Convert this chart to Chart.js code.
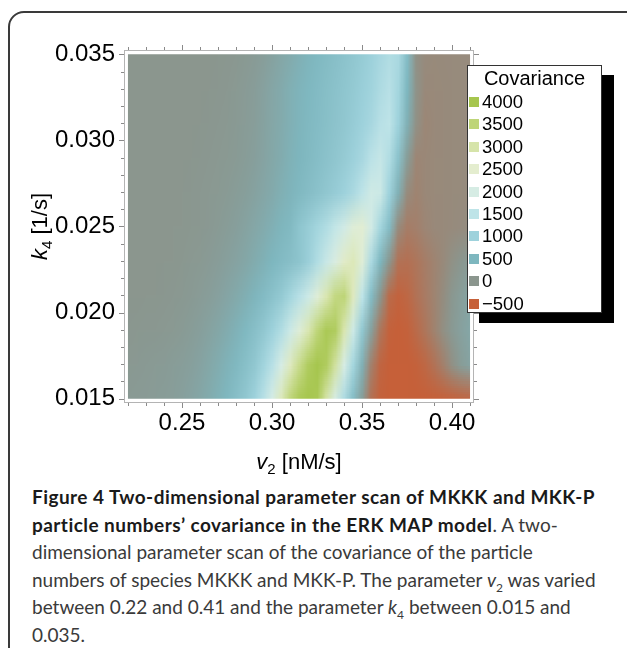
<!DOCTYPE html>
<html>
<head>
<meta charset="utf-8">
<script src="https://cdn.jsdelivr.net/npm/chart.js@4.4.1/dist/chart.umd.min.js"></script>
<style>
    html, body { margin: 0; padding: 0; background: #fff; }
    body { width: 627px; height: 648px; position: relative; overflow: hidden; }
    #box { position: absolute; left: 8px; top: 11px; width: 660px; height: 700px; border: 2px solid #3a3a3a; border-radius: 16px; box-sizing: border-box; }
    #wrap { position: absolute; left: 0; top: 0; width: 627px; height: 480px; }
    #caption { position: absolute; left: 32px; top: 483px; font-family: Lato, "Open Sans", sans-serif; font-size: 19px; line-height: 27.5px; color: #3a3a3a; white-space: nowrap; }
    #caption b { color: #1a1a1a; letter-spacing: 0.45px; }
    #caption sub { font-size: 12px; line-height: 0; }
</style>
</head>
<body>
<div id="box"></div>
<div id="wrap"><canvas id="covChart" width="627" height="480"></canvas></div>
<div id="caption">
<b>Figure 4 Two-dimensional parameter scan of MKKK and MKK-P</b><br>
<b>particle numbers’ covariance in the ERK MAP model</b>. A two-<br>
dimensional parameter scan of the covariance of the particle<br>
numbers of species MKKK and MKK-P. The parameter <i>v</i><sub>2</sub> was varied<br>
between 0.22 and 0.41 and the parameter <i>k</i><sub>4</sub> between 0.015 and<br>
0.035.
</div>
<script>
// axes de la grille (v2 en nM/s, k4 en 1/s)
const v2Values = [0.220, 0.225, 0.230, 0.235, 0.240, 0.245, 0.250, 0.255, 0.260, 0.265,
                  0.270, 0.275, 0.280, 0.285, 0.290, 0.295, 0.300, 0.305, 0.310, 0.315,
                  0.320, 0.325, 0.330, 0.335, 0.340, 0.345, 0.350, 0.355, 0.360, 0.365,
                  0.370, 0.375, 0.380, 0.385, 0.390, 0.395, 0.400, 0.405, 0.410];
const k4Values = [0.015, 0.017, 0.019, 0.021, 0.023, 0.025, 0.027, 0.029, 0.031, 0.033, 0.035];

// covariance, une ligne par valeur de k4
const cov_k015 = [60, 70, 80, 90, 100, 120, 150, 200, 260, 330, 420, 520, 650, 800, 1000, 1400, 2000, 2800, 3500, 3900, 4000, 3900, 3000, 2000, 1200, 600, 100, -350, -480, -500, -500, -500, -500, -500, -500, -500, -490, -470, -450];
const cov_k017 = [40, 50, 60, 70, 80, 100, 120, 150, 200, 270, 350, 440, 540, 660, 800, 1050, 1400, 2000, 2700, 3300, 3800, 4000, 3800, 3100, 2000, 1100, 400, -200, -450, -500, -500, -500, -480, -430, -330, -200, -50, 100, 200];
const cov_k019 = [20, 25, 30, 35, 45, 55, 70, 100, 140, 190, 260, 340, 430, 530, 650, 800, 1000, 1300, 1800, 2300, 2900, 3500, 3900, 3800, 2900, 1800, 800, 150, -300, -480, -500, -480, -400, -300, -180, -60, 60, 170, 250];
const cov_k021 = [0, 5, 10, 15, 20, 30, 45, 65, 90, 120, 170, 230, 300, 380, 470, 580, 700, 850, 1100, 1400, 1800, 2300, 2900, 3400, 3500, 2700, 1500, 600, 0, -400, -470, -430, -330, -250, -170, -80, 30, 130, 220];
const cov_k023 = [0, 0, 0, 5, 10, 15, 25, 40, 55, 80, 110, 150, 200, 260, 330, 410, 500, 580, 650, 750, 950, 1300, 1700, 2100, 2600, 2800, 2300, 1200, 500, 0, -330, -350, -300, -230, -170, -110, -40, 20, 80];
const cov_k025 = [0, 0, 0, 0, 5, 10, 15, 25, 35, 50, 70, 100, 140, 190, 250, 320, 400, 480, 560, 750, 900, 1100, 1300, 1600, 1900, 2300, 2400, 1900, 1100, 600, -100, -230, -200, -150, -120, -110, -100, -90, -80];
const cov_k027 = [0, 0, 0, 0, 0, 5, 10, 20, 30, 40, 55, 75, 100, 135, 180, 240, 310, 390, 460, 540, 620, 700, 790, 890, 1000, 1200, 1500, 1850, 1800, 1000, 400, -100, -170, -130, -115, -110, -105, -100, -95];
const cov_k029 = [0, 0, 0, 0, 0, 0, 5, 10, 20, 30, 40, 55, 75, 100, 140, 200, 270, 340, 420, 490, 560, 630, 700, 780, 870, 980, 1150, 1450, 1650, 1300, 700, 100, -150, -130, -115, -110, -105, -100, -100];
const cov_k031 = [0, 0, 0, 0, 0, 0, 0, 5, 10, 20, 30, 45, 65, 90, 125, 180, 250, 320, 400, 470, 540, 600, 660, 730, 800, 890, 1000, 1150, 1400, 1500, 1000, 400, -50, -140, -120, -110, -105, -100, -100];
const cov_k033 = [0, 0, 0, 0, 0, 0, 0, 0, 5, 10, 20, 35, 55, 80, 110, 170, 240, 310, 390, 460, 520, 580, 640, 700, 770, 850, 940, 1050, 1250, 1400, 1100, 500, -30, -120, -115, -110, -105, -100, -100];
const cov_k035 = [0, 0, 0, 0, 0, 0, 0, 0, 0, 5, 10, 20, 35, 55, 80, 120, 180, 250, 320, 400, 470, 530, 590, 650, 720, 800, 880, 980, 1150, 1300, 1200, 600, -50, -100, -110, -105, -100, -100, -100];
const covRows = [cov_k015, cov_k017, cov_k019, cov_k021, cov_k023, cov_k025, cov_k027, cov_k029, cov_k031, cov_k033, cov_k035];

// graduations
const xTicks = [0.25, 0.30, 0.35, 0.40];
const yTicks = [0.015, 0.020, 0.025, 0.030, 0.035];

// légende
const legendLevels = [4000, 3500, 3000, 2500, 2000, 1500, 1000, 500, 0, -500];

// échelle de couleurs (valeur -> rgb)
const stopValues = [-500, 0, 500, 1000, 1500, 2000, 2500, 3000, 3500, 4000];
const stopColors = [[198, 96, 57], [139, 150, 142], [126, 183, 191], [158, 210, 220], [190, 228, 232],
                    [214, 236, 228], [228, 237, 207], [214, 228, 170], [190, 213, 120], [166, 198, 78]];

function colorFor(v) {
    if (v <= stopValues[0]) return stopColors[0];
    for (let i = 1; i < stopValues.length; i++) {
        if (v <= stopValues[i]) {
            const t = (v - stopValues[i - 1]) / (stopValues[i] - stopValues[i - 1]);
            const a = stopColors[i - 1], b = stopColors[i];
            return [0, 1, 2].map(c => Math.round(a[c] + (b[c] - a[c]) * t));
        }
    }
    return stopColors[stopColors.length - 1];
}

const points = [];
k4Values.forEach((k, j) => {
    v2Values.forEach((v, i) => {
        points.push({ x: v, y: k, c: covRows[j][i] });
    });
});

// Dessin de la carte de densité (lissée) à partir des échelles du graphique
const heatmapPlugin = {
    id: 'heatmap',
    beforeDatasetsDraw(chart) {
        const { ctx, scales: { x, y } } = chart;
        const nx = v2Values.length, ny = k4Values.length;
        const off = document.createElement('canvas');
        off.width = nx;
        off.height = ny;
        const octx = off.getContext('2d');
        const img = octx.createImageData(nx, ny);
        points.forEach(p => {
            const i = v2Values.indexOf(p.x);
            const j = k4Values.indexOf(p.y);
            const r = ny - 1 - j;
            const col = colorFor(p.c);
            const idx = (r * nx + i) * 4;
            img.data[idx] = col[0];
            img.data[idx + 1] = col[1];
            img.data[idx + 2] = col[2];
            img.data[idx + 3] = 255;
        });
        octx.putImageData(img, 0, 0);

        const x0 = x.getPixelForValue(v2Values[0]);
        const x1 = x.getPixelForValue(v2Values[nx - 1]);
        const yTop = y.getPixelForValue(k4Values[ny - 1]);
        const yBot = y.getPixelForValue(k4Values[0]);
        const dx = (x1 - x0) / (nx - 1);
        const dy = (yBot - yTop) / (ny - 1);
        ctx.save();
        ctx.beginPath();
        ctx.rect(x0, yTop, x1 - x0, yBot - yTop);
        ctx.clip();
        ctx.imageSmoothingEnabled = true;
        ctx.drawImage(off, x0 - dx / 2, yTop - dy / 2, nx * dx, ny * dy);
        ctx.restore();
    }
};

// Cadre, graduations mineures, titres d'axes et légende
const framePlugin = {
    id: 'frame',
    afterDraw(chart) {
        const { ctx, chartArea: { left, right, top, bottom }, scales: { x, y } } = chart;
        ctx.save();
        ctx.strokeStyle = '#b4b4b4';
        ctx.lineWidth = 1;
        ctx.strokeRect(left + 0.5, top + 0.5, right - left - 1, bottom - top - 1);

        ctx.strokeStyle = '#8a8a8a';
        ctx.beginPath();
        for (let n = 22; n <= 41; n++) {
            const v = n / 100;
            const len = (n % 5 === 0) ? 5 : 3;
            const px = Math.round(x.getPixelForValue(v)) + 0.5;
            ctx.moveTo(px, bottom); ctx.lineTo(px, bottom + len);
            ctx.moveTo(px, top); ctx.lineTo(px, top - len);
        }
        for (let n = 15; n <= 35; n++) {
            const v = n / 1000;
            const len = (n % 5 === 0) ? 5 : 3;
            const py = Math.round(y.getPixelForValue(v)) + 0.5;
            ctx.moveTo(left, py); ctx.lineTo(left - len, py);
            ctx.moveTo(right, py); ctx.lineTo(right + len, py);
        }
        ctx.stroke();

        // titres d'axes avec indices
        function subTitle(sym, sub, rest) {
            const big = '22px "Liberation Sans", Arial, sans-serif';
            const it = 'italic 22px "Liberation Sans", Arial, sans-serif';
            const small = '15px "Liberation Sans", Arial, sans-serif';
            ctx.font = it; const w1 = ctx.measureText(sym).width;
            ctx.font = small; const w2 = ctx.measureText(sub).width;
            ctx.font = big; const w3 = ctx.measureText(rest).width;
            const total = w1 + w2 + w3;
            let cx = -total / 2;
            ctx.fillStyle = '#000';
            ctx.textBaseline = 'alphabetic';
            ctx.textAlign = 'left';
            ctx.font = it; ctx.fillText(sym, cx, 0); cx += w1;
            ctx.font = small; ctx.fillText(sub, cx, 5); cx += w2;
            ctx.font = big; ctx.fillText(rest, cx, 0);
        }
        ctx.save();
        ctx.translate((left + right) / 2, 469);
        subTitle('v', '2', ' [nM/s]');
        ctx.restore();
        ctx.save();
        ctx.translate(47, (top + bottom) / 2);
        ctx.rotate(-Math.PI / 2);
        subTitle('k', '4', ' [1/s]');
        ctx.restore();

        // légende
        const bx = 467, by = 65, bw = 135, bh = 248;
        ctx.fillStyle = '#000';
        ctx.fillRect(bx + 12, by + 10, bw, bh);
        ctx.fillStyle = '#fff';
        ctx.fillRect(bx, by, bw, bh);
        ctx.strokeStyle = '#333';
        ctx.strokeRect(bx + 0.5, by + 0.5, bw - 1, bh - 1);
        ctx.fillStyle = '#000';
        ctx.textBaseline = 'middle';
        ctx.textAlign = 'center';
        ctx.font = '20px "Liberation Sans", Arial, sans-serif';
        ctx.fillText('Covariance', bx + bw / 2, by + 14);
        ctx.textAlign = 'left';
        ctx.font = '18.5px "Liberation Sans", Arial, sans-serif';
        legendLevels.forEach((lv, k) => {
            const yc = by + 37 + k * 22.4;
            const col = colorFor(lv);
            ctx.fillStyle = 'rgb(' + col.join(',') + ')';
            ctx.fillRect(bx + 2, Math.round(yc - 5), 10, 10);
            ctx.fillStyle = '#000';
            ctx.fillText(lv < 0 ? '\u2212' + Math.abs(lv) : String(lv), bx + 15, yc + 1);
        });
        ctx.restore();
    }
};

const ctx = document.getElementById('covChart').getContext('2d');
new Chart(ctx, {
    type: 'scatter',
    data: {
        datasets: [{
            label: 'Covariance',
            data: points,
            pointRadius: 0,
            pointHoverRadius: 0
        }]
    },
    options: {
        responsive: false,
        animation: false,
        devicePixelRatio: 1,
        layout: { padding: { left: 0, right: 153, top: 50, bottom: 0 } },
        plugins: {
            legend: { display: false },
            tooltip: { enabled: false }
        },
        scales: {
            x: {
                type: 'linear',
                min: 0.2178,
                max: 0.4122,
                afterBuildTicks: s => { s.ticks = xTicks.map(v => ({ value: v })); },
                afterFit: s => { s.height = 77; },
                grid: { display: false, drawTicks: false },
                border: { display: false },
                ticks: {
                    callback: v => v.toFixed(2),
                    font: { family: '"Liberation Sans", Arial, sans-serif', size: 24 },
                    color: '#000',
                    padding: 6,
                    maxRotation: 0,
                    autoSkip: false
                }
            },
            y: {
                type: 'linear',
                min: 0.01475,
                max: 0.03525,
                afterBuildTicks: s => { s.ticks = yTicks.map(v => ({ value: v })); },
                afterFit: s => { s.width = 124; },
                grid: { display: false, drawTicks: false },
                border: { display: false },
                ticks: {
                    callback: v => v.toFixed(3),
                    font: { family: '"Liberation Sans", Arial, sans-serif', size: 24 },
                    color: '#000',
                    padding: 9,
                    autoSkip: false
                }
            }
        }
    },
    plugins: [heatmapPlugin, framePlugin]
});
</script>
</body>
</html>
